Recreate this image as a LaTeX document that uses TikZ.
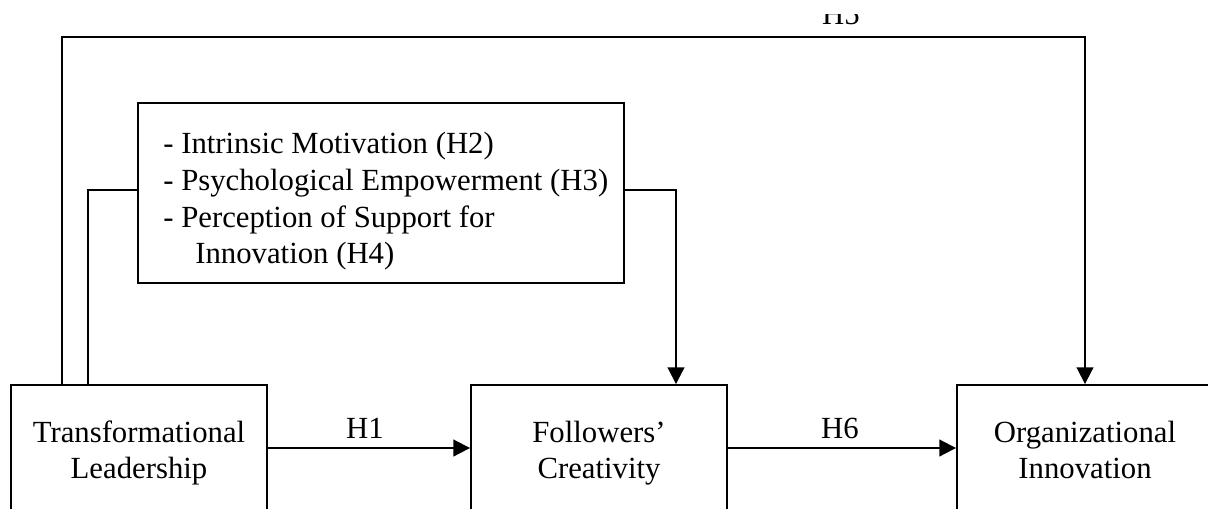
\documentclass[tikz,border=0pt]{standalone}
\usepackage{fontspec}
\setmainfont{Liberation Serif}
\usetikzlibrary{arrows.meta}
\begin{document}
\begin{tikzpicture}[x=0.02cm,y=-0.02cm,
  every node/.style={font=\fontsize{17.5}{20.4}\selectfont},
  box/.style={draw, line width=1.1pt, rectangle, inner sep=0pt, align=center,
    minimum width=5.12cm, minimum height=2.72cm},
  conn/.style={line width=1.1pt},
  arr/.style={conn, -{Triangle[length=9.5pt,width=9.5pt]}},
  lbl/.style={inner sep=0pt, anchor=base},
  itm/.style={inner sep=0pt, anchor=base west}]
\useasboundingbox (0,0) rectangle (1208,508);
\clip (0,0) rectangle (1208,508);
% boxes
\node[box] (tl) at (139,453) {Transformational\\Leadership};
\node[box] (fc) at (599,453) {Followers’\\Creativity};
\node[box] (oi) at (1085,453) {Organizational\\Innovation\vphantom{p}};
\node[box, minimum width=9.72cm, minimum height=3.6cm] (med) at (381,193) {};
\node[itm] (m1) at (163,153) {- Intrinsic Motivation (H2)};
\node[itm] (m2) at (163,190) {- Psychological Empowerment (H3)};
\node[itm] (m3) at (163,227) {- Perception of Support for};
\node[itm] (m4) at (195,263) {Innovation (H4)};
% H5 label (cut off at top)
\begin{scope}
\clip (780,14) rectangle (900,40);
\node[lbl] (h5) at (841,24) {H5};
\end{scope}
% connectors
\coordinate (h5l) at (62,37);
\coordinate (h5r) at (1085,37);
\draw[arr] (tl.north -| h5l) -- (h5l) -- (h5r) -- (oi.north -| h5r);
\coordinate (ml) at (88,190);
\coordinate (mr) at (676,190);
\draw[conn] (tl.north -| ml) -- (ml) -- (med.west |- ml);
\draw[arr] (med.east |- mr) -- (mr) -- (fc.north -| mr);
\coordinate (hy) at (0,448);
\draw[arr] (tl.east |- hy) -- (fc.west |- hy);
\draw[arr] (fc.east |- hy) -- (oi.west |- hy);
\node[lbl] (h1) at (365,438) {H1};
\node[lbl] (h6) at (840,438) {H6};
\end{tikzpicture}
\end{document}
